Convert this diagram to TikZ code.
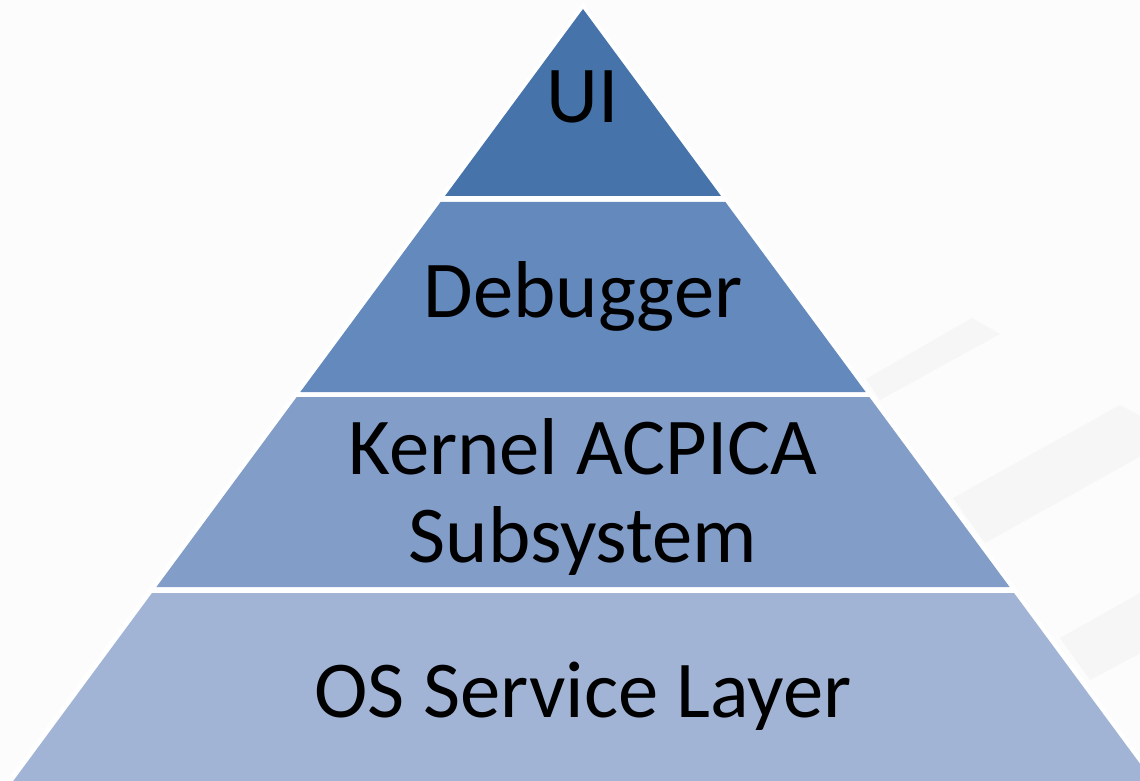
\documentclass[tikz,border=0pt]{standalone}
\usepackage{fontspec}
\setmainfont{Carlito}
\definecolor{bgc}{RGB}{252,252,252}
\definecolor{stripec}{RGB}{246,246,246}
\definecolor{layerA}{RGB}{70,116,170}
\definecolor{layerB}{RGB}{100,137,189}
\definecolor{layerC}{RGB}{129,157,200}
\definecolor{layerD}{RGB}{162,180,213}
\begin{document}
\begin{tikzpicture}[x=0.75pt,y=-0.75pt,
  lbl/.style={font=\fontsize{60.5}{66}\selectfont, text=black, inner sep=0pt},
  stripe/.style={fill=stripec, draw=none}]
\useasboundingbox (0,0) rectangle (1140,781);
\fill[bgc] (0,0) rectangle (1140,781);
% faint stripes
\begin{scope}
\clip (0,0) rectangle (1140,781);
\fill[stripe] (866,379) -- (972,318) -- (1000,334) -- (880,400) -- cycle;
\fill[stripe] (953,498) -- (1120,405) -- (1150,421) -- (1150,451) -- (985,543) -- cycle;
\fill[stripe] (1060,638) -- (1140,593) -- (1150,590) -- (1150,648) -- (1090,680) -- cycle;
\end{scope}
% pyramid halo
\fill[white] (583,2) -- (1165,790) -- (0,790) -- cycle;
\begin{scope}
\clip (0,0) rectangle (1140,781);
\fill[layerA] (583,9) -- (721,196) -- (445,196) -- cycle;
\fill[layerB] (440.6,202) -- (725.4,202) -- (865.7,392) -- (300.3,392) -- cycle;
\fill[layerC] (296.7,397) -- (869.3,397) -- (1009.6,587) -- (156.4,587) -- cycle;
\fill[layerD] (152,593) -- (1014,593) -- (1159.4,790) -- (6.6,790) -- cycle;
\end{scope}
\node[lbl, anchor=base] (ui) at (583,123) {UI};
\node[lbl, anchor=base] (dbg) at (583,318) {Debugger};
\node[lbl, anchor=base, align=center] (kern) at (583,562) {Kernel ACPICA\\Subsystem};
\node[lbl, anchor=base] (osl) at (583,717) {OS Service Layer};
\end{tikzpicture}
\end{document}
